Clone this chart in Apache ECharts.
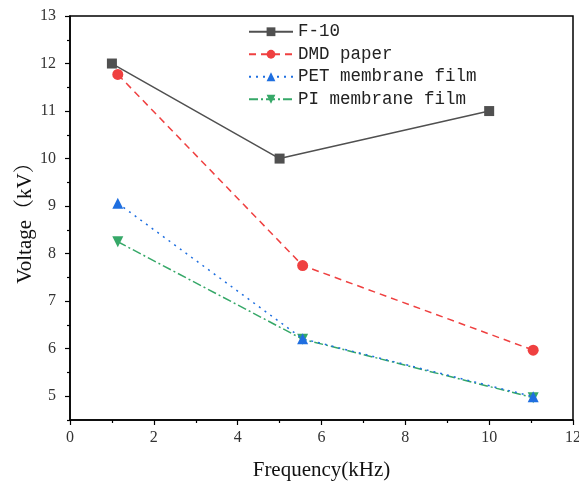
<!DOCTYPE html>
<html><head><meta charset="utf-8">
<script src="https://cdn.jsdelivr.net/npm/echarts@6/dist/echarts.min.js"></script>
<style>html,body{margin:0;padding:0;background:#fff}#c{width:579px;height:483px}</style>
</head><body><div id="c"></div>
<script>
var seriesNames = ['F-10', 'DMD paper', 'PET membrane film', 'PI membrane film'];
var f10X = [1, 5, 10];
var f10Y = [12, 10, 11];
var dmdX = [1.14, 5.55, 11.05];
var dmdY = [11.77, 7.75, 5.97];
var petX = [1.14, 5.55, 11.05];
var petY = [9.06, 6.21, 4.99];
var piX = [1.14, 5.55, 11.05];
var piY = [8.25, 6.2, 4.97];
var yMajorTicks = [5, 6, 7, 8, 9, 10, 11, 12, 13];
var yMinorTicks = [4.5, 5.5, 6.5, 7.5, 8.5, 9.5, 10.5, 11.5, 12.5];
function pairs(xs, ys){ return xs.map(function(x,i){return [x, ys[i]];}); }

var serif = '"Liberation Serif", "Noto Serif CJK SC", serif';
var legendFont = '"Liberation Mono", "Noto Sans CJK SC", monospace';
var chart = echarts.init(document.getElementById('c'), null, {renderer:'canvas'});
var colors = ['#505050', '#ef4040', '#1f6fe0', '#36a868'];
var lineTypes = ['solid', [7,5], [2,5], [9,3,2,3]];
var symbols = ['rect', 'circle', 'triangle', 'triangle'];
var rotations = [0, 0, 0, 180];
var datas = [pairs(f10X,f10Y), pairs(dmdX,dmdY), pairs(petX,petY), pairs(piX,piY)];
var series = seriesNames.map(function(n,i){
  return {
    name: n, type: 'line', data: datas[i],
    symbol: symbols[i], symbolRotate: rotations[i], symbolSize: i===0?10:11,
    showAllSymbol: true,
    itemStyle: {color: colors[i]},
    lineStyle: {color: colors[i], width: 1.5, type: lineTypes[i]},
    z: 10 - i
  };
});
chart.setOption({
  animation: false,
  backgroundColor: '#fff',
  grid: {left: 70, right: 6, top: 16, bottom: 63, outerBoundsMode: 'none', containLabel: false,
    show: true, borderColor: '#000', borderWidth: 1.5, backgroundColor: 'transparent'},
  legend: {
    orient: 'vertical', left: 243, top: 18, itemWidth: 44, itemHeight: 11, itemGap: 5,
    textStyle: {fontFamily: legendFont, fontSize: 17.5, color: '#222'},
    data: seriesNames
  },
  xAxis: {
    type: 'value', min: 0, max: 12, interval: 2,
    name: 'Frequency(kHz)', nameLocation: 'middle', nameGap: 40,
    nameTextStyle: {fontFamily: serif, fontSize: 21, color: '#111'},
    axisLine: {show: true, lineStyle: {color: '#000', width: 1.5}},
    axisTick: {show: true, inside: false, length: 5, lineStyle: {color: '#000', width: 1.2}},
    minorTick: {show: true, splitNumber: 2, length: 3, lineStyle: {color: '#000', width: 1.2}},
    axisLabel: {fontFamily: serif, fontSize: 16, color: '#333', margin: 10},
    splitLine: {show: false}
  },
  yAxis: [{
    type: 'value', min: 4.5, max: 13,
    name: 'Voltage（kV）', nameLocation: 'middle', nameGap: 34, nameMoveOverlap: false,
    nameTextStyle: {fontFamily: serif, fontSize: 21, color: '#111'},
    axisLine: {show: true, lineStyle: {color: '#000', width: 1.5}},
    axisTick: {show: true, inside: false, length: 5, customValues: yMajorTicks, lineStyle: {color: '#000', width: 1.2}},
    axisLabel: {fontFamily: serif, fontSize: 16, color: '#333', margin: 14, customValues: yMajorTicks},
    splitLine: {show: false}
  }, {
    type: 'value', min: 4.5, max: 13, position: 'left', offset: 0,
    axisLine: {show: false},
    axisTick: {show: true, inside: false, length: 3, customValues: yMinorTicks, lineStyle: {color: '#000', width: 1.2}},
    axisLabel: {show: false},
    splitLine: {show: false}
  }],
  series: series
});
</script></body></html>
